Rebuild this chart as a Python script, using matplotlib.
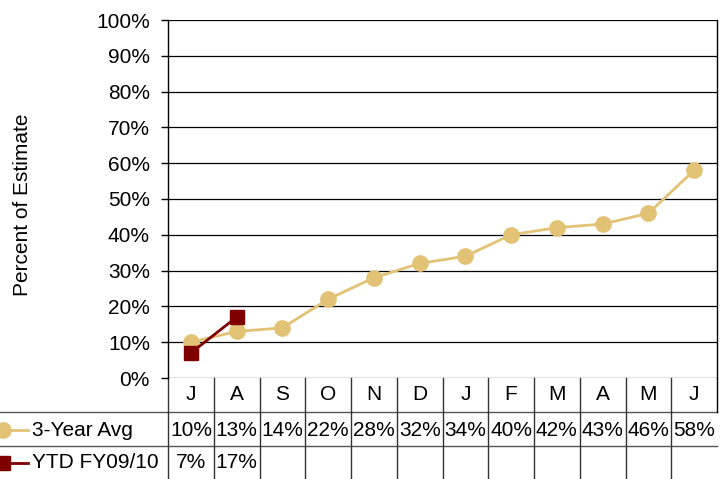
import numpy as np
import matplotlib.pyplot as plt
import matplotlib.transforms as mtransforms

plt.rcParams['font.family'] = ['Liberation Sans', 'DejaVu Sans']

months = ["J", "A", "S", "O", "N", "D", "J", "F", "M", "A", "M", "J"]
avg_3yr = [10, 13, 14, 22, 28, 32, 34, 40, 42, 43, 46, 58]
ytd = [7, 17]
series_names = ["3-Year Avg", "YTD FY09/10"]
yticks = np.arange(0, 101, 10)

gold = "#E2C274"
darkred = "#7F0000"
fs = 15

W, H = 728, 479
fig = plt.figure(figsize=(W / 100, H / 100), dpi=100)

# plot area in pixels: left 168, right 717, top 20, bottom 378
L, R, T, B = 168, 717, 20, 378
ax = fig.add_axes([L / W, 1 - B / H, (R - L) / W, (B - T) / H])
# overlay in pixel coords for the data table
ov = fig.add_axes([0, 0, 1, 1], zorder=-1)
ov.set_xlim(0, W)
ov.set_ylim(H, 0)
ov.axis("off")

x = np.arange(len(months))
ax.plot(x, avg_3yr, color=gold, lw=2, marker="o", ms=11, zorder=3)
ax.plot(np.arange(len(ytd)), ytd, color=darkred, lw=2, marker="s", ms=10,
        zorder=4)

ax.set_xlim(-0.5, len(months) - 0.5)
ax.set_ylim(0, 100)
ax.set_yticks(yticks)
ax.set_yticklabels([f"{v}%" for v in yticks], fontsize=fs)
ax.tick_params(axis="y", length=5, width=1, pad=8, color="black")
ax.set_xticks([])
ax.grid(axis="y", color="black", lw=0.9)
ax.set_axisbelow(True)
for s in ["top", "bottom"]:
    ax.spines[s].set_visible(False)
ax.spines["left"].set_linewidth(1)
ax.spines["right"].set_linewidth(1)

fig.text(23 / W, 1 - 205 / H, "Percent of Estimate", rotation=90,
         ha="center", va="center", fontsize=fs)

# table
tr = mtransforms.blended_transform_factory(ax.transData, ov.transData)
lc = "#555555"
ov.plot([0, R], [412, 412], color=lc, lw=1)
ov.plot([0, R], [446, 446], color=lc, lw=1)
for i in range(len(months)):
    ax.plot([i - 0.5, i - 0.5], [378, 479], color="#333333", lw=1,
            transform=tr, clip_on=False)
ax.plot([len(months) - 0.5] * 2, [378, 412], color="black", lw=1,
        transform=tr, clip_on=False)

for i, m in enumerate(months):
    ax.text(i, 395, m, transform=tr, ha="center", va="center", fontsize=fs)
for i, v in enumerate(avg_3yr):
    ax.text(i, 430, f"{v}%", transform=tr, ha="center", va="center",
            fontsize=fs)
for i, v in enumerate(ytd):
    ax.text(i, 463, f"{v}%", transform=tr, ha="center", va="center",
            fontsize=fs)

# legend keys
ov.plot([0, 28], [430, 430], color=gold, lw=2)
ov.plot([3], [430], marker="o", ms=11, color=gold)
ov.plot([0, 28], [463, 463], color=darkred, lw=2)
ov.plot([3], [463], marker="s", ms=10, color=darkred)
ov.text(32, 430, series_names[0], ha="left", va="center", fontsize=fs)
ov.text(32, 463, series_names[1], ha="left", va="center", fontsize=fs)

fig.savefig("out.png", dpi=100)
